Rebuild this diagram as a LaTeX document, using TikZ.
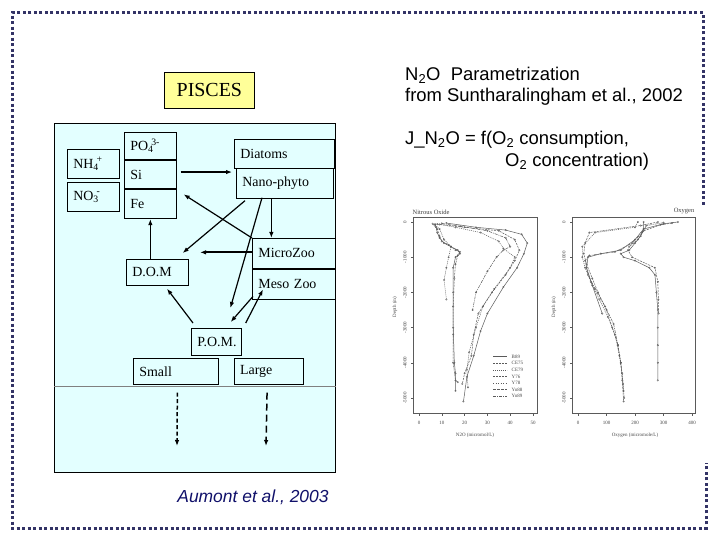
\documentclass[tikz,border=0pt]{standalone}
\usepackage{fontspec}
\setmainfont{Liberation Serif}
\newfontfamily\arialfont{Liberation Sans}
\usetikzlibrary{arrows.meta,positioning,calc,plotmarks}
\definecolor{ink}{HTML}{000000}
\definecolor{skybg}{HTML}{E3FFFF}
\definecolor{piscesbg}{HTML}{FFFF99}
\definecolor{framenavy}{HTML}{333366}
\definecolor{citenavy}{HTML}{10106A}
\definecolor{plotgray}{HTML}{5A5A5A}
\newcommand{\ionchg}[2]{\rlap{\textsubscript{#1}}\kern.22em\textsuperscript{#2}}
\tikzset{
  >={Latex[length=6bp,width=4.5bp]},
  cell/.style={draw=ink,line width=0.7bp,fill=skybg,anchor=north west,align=left,inner xsep=6bp,inner ysep=0pt,minimum height=29bp,font=\fontsize{14}{16}\selectfont},
  titlebox/.style={draw=ink,line width=0.7bp,fill=piscesbg,anchor=north west,minimum width=90bp,minimum height=36bp,inner sep=0pt,font=\fontsize{20}{24}\selectfont},
  flow/.style={->,line width=1.2bp,draw=ink},
  flowthick/.style={flow,line width=2.2bp},
  sinkfine/.style={->,line width=1.5bp,dash pattern=on 4bp off 2.5bp},
  sinkcoarse/.style={->,line width=1.5bp,dash pattern=on 7bp off 4bp},
  sepline/.style={line width=2bp,draw=ink},
  note/.style={font=\arialfont\fontsize{18.5}{22}\selectfont,anchor=west,inner sep=0pt},
  framedots/.style={draw=framenavy,line width=3bp,dash pattern=on 3bp off 2.5bp},
  axisline/.style={draw=plotgray,line width=0.6bp},
  axislbl/.style={font=\fontsize{5}{6}\selectfont,text=plotgray!80!black,inner sep=0.5pt},
  plottitle/.style={font=\fontsize{6.5}{7}\selectfont,text=plotgray!70!black,inner sep=0.5pt},
  profile/.style={draw=plotgray,line width=0.5bp,mark=o,mark size=0.8bp,mark options={solid,line width=0.3bp}},
  legline/.style={draw=plotgray,line width=0.5bp}
}
\begin{document}
\begin{tikzpicture}[x=1bp,y=-1bp]
  \fill[white] (0,0) rectangle (720,540);
  \useasboundingbox (0,0) rectangle (720,540);
  \draw[framedots] (703,205) -- (703,13) -- (12,13) -- (12,528) -- (706,528) -- (706,463);

  % PISCES compartments
  \node[titlebox] (pisces) at (164,72) {PISCES};
  \node[draw=ink,line width=0.8bp,fill=skybg,anchor=north west,minimum width=281bp,minimum height=349bp,inner sep=0pt] (seabox) at (54,123) {};
  \draw[gray,line width=0.8bp] (seabox.west |- 0,386) -- (seabox.east |- 0,386);

  \node[cell,text width=40bp] (nh4) at (67,149) {NH\ionchg{4}{+}};
  \node[cell,text width=40bp,below=3bp of nh4] (no3) {NO\ionchg{3}{-}};
  \node[cell,text width=40bp,minimum height=27bp] (po4) at (124,132) {PO\ionchg{4}{3-}};
  \node[cell,text width=40bp,below=0pt of po4] (si) {Si};
  \node[cell,text width=40bp,below=0pt of si] (fe) {Fe};
  \draw[sepline] (po4.south west) -- (po4.south east);
  \draw[sepline] (si.south west) -- (si.south east);

  \node[cell,text width=88bp] (diatoms) at (234,139) {Diatoms};
  \node[cell,text width=85bp,minimum height=30bp] (nano) at (236,168) {Nano-phyto};
  \node[cell,text width=71bp,minimum height=30bp] (micro) at (252,238) {MicroZoo};
  \node[cell,text width=71bp,minimum height=30bp,below=0pt of micro] (meso) {Meso Zoo};
  \node[cell,text width=50bp,minimum height=26bp] (dom) at (126,259) {D.O.M};
  \node[cell,text width=38bp,minimum height=27bp,align=center] (pom) at (191,328) {P.O.M.};
  \node[cell,text width=73bp,minimum height=26bp] (small) at (133,358) {Small};
  \node[cell,text width=57bp,minimum height=26bp,right=15bp of small] (large) {Large};
  \coordinate (smallsink) at (177,446);
  \coordinate (largesink) at (266,446);

  \draw[flowthick] ([xshift=4bp,yshift=2.5bp]si.east) -- ([xshift=-4bp,yshift=2.5bp]si.east -| nano.west);
  \draw[flow] (micro.north west) -- ($(fe.north east)+(7,5)$);
  \draw[flow] ($(nano.south west)+(9,2)$) -- ($(dom.north east)+(-6,-6)$);
  \draw[flowthick] ([yshift=1bp]micro.west) -- ([xshift=-52bp,yshift=1bp]micro.west);
  \draw[flow] ([xshift=-13.5bp]nano.south) -- ([xshift=-13.5bp]nano.south |- micro.north);
  \draw[flow] (dom.north -| fe.south) -- (fe.south);
  \draw[flow] ($(nano.south west)+(26,-1)$) -- ($(pom.north)+(14,-20)$);
  \draw[flow] ($(meso.south west)+(1,-3)$) -- ($(pom.north east)+(-11,-6)$);
  \draw[flow] ($(pom.north east)+(4,-5)$) -- ($(meso.south west)+(11,-10)$);
  \draw[flow] ($(pom.north west)+(2,-5)$) -- ($(dom.south west)+(41,3)$);
  \draw[sinkfine] ([xshift=1.5bp,yshift=-8bp]small.south) -- (smallsink);
  \draw[sinkcoarse] ([xshift=-1.5bp,yshift=-8bp]large.south) -- (largesink);

  \node[font=\arialfont\itshape\fontsize{17.5}{21}\selectfont,text=citenavy,inner sep=0pt] (cite) at (253,497) {Aumont et al., 2003};

  % N2O parametrization
  \node[note] (paramA) at (405,75) {N\textsubscript{2}O\ \ Parametrization};
  \node[note] (paramB) at (405,97) {from Suntharalingham et al., 2002};
  \node[note] (jflux) at (405,140) {J\_N\textsubscript{2}O = f(O\textsubscript{2} consumption,};
  \node[note] (jfluxB) at (505,162) {O\textsubscript{2} concentration)};

  % nitrous oxide profiles
  \node[plottitle,anchor=south west] (n2otitle) at (412,215) {Nitrous Oxide};
  \draw[axisline] (413,217) rectangle (537,413);
  \foreach \d/\t in {0/0,1000/-1000,2000/-2000,3000/-3000,4000/-4000,5000/-5000}{
    \draw[axisline] (413,{222+0.0352*\d}) -- (410.5,{222+0.0352*\d});
    \node[axislbl,rotate=90] (nd\d) at (405,{222+0.0352*\d}) {\t};
  }
  \foreach \v in {0,10,...,50}{
    \draw[axisline] ({419+2.28*\v},413) -- ({419+2.28*\v},415.5);
    \node[axislbl] (nv\v) at ({419+2.28*\v},423) {\v};
  }
  \node[axislbl] (n2oxlabel) at (475,435) {N2O (micromol/L)};
  \node[axislbl,rotate=90] (n2oylabel) at (395,307) {Depth (m)};
  \begin{scope}[x=2.28bp,y=-0.0352bp,shift={(419bp,-222bp)}]
    \draw[profile] plot coordinates {(7,60) (7.5,150) (8,300) (9,450) (11,600) (14,700) (17,800) (18,900) (16,1000) (15,1300) (15,2000) (15,3000) (15.5,4000) (16,4300) (16,4800)};
    \draw[profile,dash pattern=on 2bp off 1bp] plot coordinates {(6,50) (8,200) (9,400) (10,550) (13,650) (16,800) (18,850) (17,950) (16,1200) (15.5,1600) (15,2400) (15,3200) (15,4000) (16,4500) (17,4550)};
    \draw[profile,dash pattern=on 1bp off 1bp] plot coordinates {(7,80) (9,200) (11,500) (14,700) (13,1000) (12,1300) (11,1650) (12,2200)};
    \draw[profile] plot coordinates {(12,30) (25,150) (38,230) (45,350) (47.5,600) (46,900) (43,1300) (37,1850) (30,2600) (27,3100) (24,3800) (21,4400) (19.5,5100)};
    \draw[profile,dash pattern=on 2bp off 1bp] plot coordinates {(8,60) (20,150) (35,250) (42,500) (44,800) (42,1100) (38,1500) (32,2000) (26,2600) (24,3200) (23,3800) (20,4300) (19,4600)};
    \draw[profile,dash pattern=on 3bp off 1bp on 1bp off 1bp] plot coordinates {(10,40) (18,120) (30,250) (38,450) (40,700) (37,800) (34,1000) (30,1400) (25,2000) (23.5,2500)};
    \draw[profile,dash pattern=on 1bp off 1bp] plot coordinates {(9,70) (16,150) (27,300) (35,550) (37,750) (42,1000) (40,1300) (33,1900) (28,2400) (25,3000) (22,3700) (21,4200) (21.5,4700)};
  \end{scope}
  \foreach \lab/\dsh [count=\i] in {B89/on 20bp off 0bp,CE75/on 2bp off 1bp,CE79/on 1bp off 1bp,Y76/on 2bp off 1bp,Y78/on 1bp off 1.5bp,Yo88/on 3bp off 1bp,Yo89/on 3bp off 1bp on 1bp off 1bp}{
    \draw[legline,dash pattern/.expanded=\dsh] (493,{350+6.6*\i}) -- (507,{350+6.6*\i});
    \node[axislbl,anchor=west] (leg\i) at (511,{350+6.6*\i}) {\lab};
  }

  % oxygen profiles
  \node[plottitle,anchor=south east] (o2title) at (695,215) {Oxygen};
  \draw[axisline] (572,217) rectangle (695,413);
  \foreach \d/\t in {0/0,1000/-1000,2000/-2000,3000/-3000,4000/-4000,5000/-5000}{
    \draw[axisline] (572,{222+0.0352*\d}) -- (569.5,{222+0.0352*\d});
    \node[axislbl,rotate=90] (od\d) at (564,{222+0.0352*\d}) {\t};
  }
  \foreach \v in {0,100,...,400}{
    \draw[axisline] ({578+0.285*\v},413) -- ({578+0.285*\v},415.5);
    \node[axislbl] (ov\v) at ({578+0.285*\v},423) {\v};
  }
  \node[axislbl] (o2xlabel) at (635,435) {Oxygen (micromole/L)};
  \node[axislbl,rotate=90] (o2ylabel) at (554,307) {Depth (m)};
  \begin{scope}[x=0.285bp,y=-0.0352bp,shift={(578bp,-222bp)}]
    \draw[profile] plot coordinates {(350,0) (300,50) (230,200) (220,400) (200,600) (180,800) (150,900) (160,1000) (200,1100) (250,1300) (270,1500) (275,2000) (280,2500) (280,3000) (280,3500) (280,4000) (280,4500)};
    \draw[profile,dash pattern=on 2bp off 1bp] plot coordinates {(280,0) (220,100) (40,300) (25,600) (20,900) (30,1200) (50,1600) (70,2000) (100,2500) (120,3000) (140,3500) (150,4000) (155,4500) (160,5100)};
    \draw[profile,dash pattern=on 1bp off 1bp] plot coordinates {(210,0) (200,150) (60,300) (15,700) (15,1000) (25,1300) (45,1700) (75,2200) (105,2700) (130,3200) (145,3800) (155,4300) (160,4800)};
    \draw[profile] plot coordinates {(230,0) (230,200) (200,500) (150,800) (80,900) (35,1000) (30,1300) (50,1800) (85,2600)};
    \draw[profile,dash pattern=on 3bp off 1bp on 1bp off 1bp] plot coordinates {(300,20) (240,100) (225,300) (190,600) (130,850) (40,950) (25,1100) (35,1500) (60,1900) (95,2400) (125,2900) (140,3500) (150,4000) (158,4600) (162,5000)};
    \draw[profile,dash pattern=on 2bp off 1bp] plot coordinates {(330,30) (290,80) (230,250) (210,500) (180,700) (175,800) (190,1000) (270,1300) (280,1700) (282,2200) (283,2600)};
  \end{scope}
\end{tikzpicture}
\end{document}
